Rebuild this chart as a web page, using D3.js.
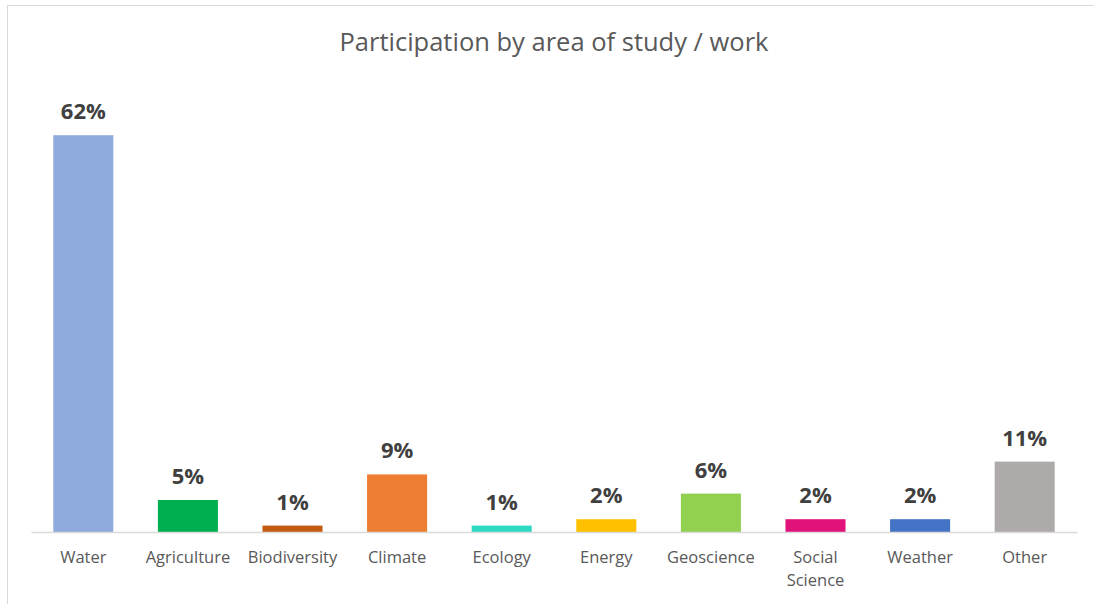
<!DOCTYPE html>
<html>
<head>
<meta charset="utf-8">
<script src="https://cdn.jsdelivr.net/npm/d3@7"></script>
<style>
  html, body { margin: 0; padding: 0; background: #ffffff; }
  svg { display: block; }
</style>
</head>
<body>
<svg id="chart" width="1094" height="604"></svg>
<script>
// Share of participants by area of study / work
const categories = ["Water", "Agriculture", "Biodiversity", "Climate", "Ecology",
                    "Energy", "Geoscience", "Social Science", "Weather", "Other"];
const shares = [0.62, 0.05, 0.01, 0.09, 0.01, 0.02, 0.06, 0.02, 0.02, 0.11];
const barColors = ["#8FAADC", "#00B050", "#C55A11", "#ED7D31", "#2ED9C3",
                   "#FFC000", "#92D050", "#E1137A", "#4472C4", "#AEAAAA"];
const chartTitle = "Participation by area of study / work";

const svg = d3.select("#chart");
const W = 1094, H = 604;
const fontFamily = "'Open Sans', 'Noto Sans', sans-serif";

// chart area frame
svg.append("rect")
  .attr("x", 7.5).attr("y", 5.5)
  .attr("width", W + 20).attr("height", H + 20)
  .attr("fill", "#ffffff")
  .attr("stroke", "#D9D9D9")
  .attr("stroke-width", 1);

const plot = { left: 31, right: 1077, top: 84, bottom: 532 };

const x = d3.scaleBand()
  .domain(categories)
  .range([plot.left, plot.right])
  .paddingInner(0.426)
  .paddingOuter(0.213);

const y = d3.scaleLinear()
  .domain([0, 0.7])
  .range([plot.bottom, plot.top]);

// title
svg.append("text")
  .attr("x", (plot.left + plot.right) / 2)
  .attr("y", 51)
  .attr("text-anchor", "middle")
  .attr("font-family", fontFamily)
  .attr("font-size", 25.5)
  .attr("fill", "#595959")
  .text(chartTitle);

// bars
svg.append("g").selectAll("rect")
  .data(categories)
  .join("rect")
  .attr("x", d => x(d))
  .attr("y", (d, i) => y(shares[i]))
  .attr("width", x.bandwidth())
  .attr("height", (d, i) => y(0) - y(shares[i]))
  .attr("fill", (d, i) => barColors[i]);

// value labels
const fmt = d3.format(".0%");
svg.append("g").selectAll("text")
  .data(categories)
  .join("text")
  .attr("x", d => x(d) + x.bandwidth() / 2)
  .attr("y", (d, i) => y(shares[i]) - 16)
  .attr("text-anchor", "middle")
  .attr("font-family", fontFamily)
  .attr("font-size", 22)
  .attr("font-weight", 700)
  .attr("fill", "#404040")
  .text((d, i) => fmt(shares[i]));

// category axis
const xAxis = svg.append("g")
  .attr("transform", `translate(0,${plot.bottom})`)
  .call(d3.axisBottom(x).tickSize(0).tickPadding(0));

xAxis.select(".domain")
  .attr("stroke", "#D9D9D9")
  .attr("stroke-width", 1.3);

xAxis.selectAll(".tick text").remove();
xAxis.selectAll(".tick").each(function(d) {
  const words = d.split(" ");
  const t = d3.select(this).append("text")
    .attr("y", 31)
    .attr("text-anchor", "middle")
    .attr("font-family", fontFamily)
    .attr("font-size", 16.5)
    .attr("fill", "#595959");
  words.forEach((w, k) => {
    t.append("tspan").attr("x", 0).attr("dy", k === 0 ? 0 : 23).text(w);
  });
});
</script>
</body>
</html>
